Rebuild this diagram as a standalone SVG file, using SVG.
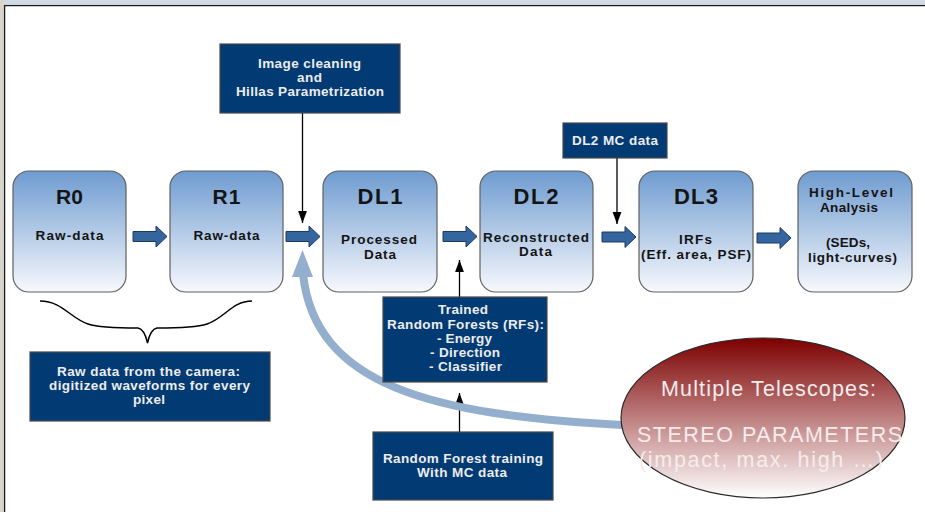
<svg xmlns="http://www.w3.org/2000/svg" width="925" height="512" viewBox="0 0 925 512">
  <defs>
    <linearGradient id="nodeFill" x1="0" y1="0" x2="0" y2="1">
      <stop offset="0" stop-color="#6e9bd0"/>
      <stop offset="1" stop-color="#f7f9fd"/>
    </linearGradient>
    <linearGradient id="redFill" x1="0" y1="0" x2="0" y2="1">
      <stop offset="0" stop-color="#7d0000"/>
      <stop offset="1" stop-color="#ffffff"/>
    </linearGradient>
    <marker id="head" markerUnits="userSpaceOnUse" markerWidth="12" markerHeight="16" refX="15" refY="5.5" viewBox="0 0 15 11" orient="auto">
      <path d="M0,0 L15,5.5 L0,11 Z" fill="#000"/>
    </marker>
    <path id="blockArrow" d="M0,-5 H23 V-10.5 L34,0 L23,10.5 V5 H0 Z"/>
  </defs>
  <style>
    .node rect { fill: url(#nodeFill); stroke: #606060; stroke-width: 1.2; }
    .title { font-family: "Liberation Sans", Arial, sans-serif; font-weight: bold; fill: #141414; text-anchor: middle; }
    .sub { font-family: "Liberation Sans", Arial, sans-serif; font-weight: bold; font-size: 13.5px; fill: #141414; text-anchor: middle; }
    .box rect { fill: #023a73; stroke: #4a4a4a; stroke-width: 1.2; }
    .box text { font-family: "Liberation Sans", Arial, sans-serif; font-weight: bold; font-size: 13.5px; fill: #ececec; text-anchor: middle; }
    .flow use { fill: #35659f; stroke: #1c3a62; stroke-width: 1; }
    .link { stroke: #000; stroke-width: 1.3; fill: none; marker-end: url(#head); }
    .ell text { font-family: "Liberation Sans", Arial, sans-serif; fill: #f6ecec; text-anchor: middle; font-size: 21.5px; }
  </style>

  <!-- page frame -->
  <rect x="0" y="0" width="925" height="512" fill="#d2dbe5"/>
  <rect x="0" y="0" width="4" height="512" fill="#d8d5cc"/>
  <rect x="4.6" y="5.6" width="925" height="510" fill="#ffffff" stroke="#1c1c1c" stroke-width="1.3"/>

  <!-- connectors -->
  <g id="connectors">
    <g class="flow">
      <use href="#blockArrow" transform="translate(133,236.5)"/>
      <use href="#blockArrow" transform="translate(286,236.5)"/>
      <use href="#blockArrow" transform="translate(443,236.5)"/>
      <use href="#blockArrow" transform="translate(602,237)"/>
      <use href="#blockArrow" transform="translate(757,238)"/>
    </g>
    <line class="link" x1="302.5" y1="113" x2="302.5" y2="223"/>
    <line class="link" x1="617" y1="158" x2="617" y2="224"/>
    <line class="link" x1="459.5" y1="297" x2="459.5" y2="260"/>
    <line class="link" x1="459.5" y1="432" x2="459.5" y2="393"/>
    <!-- brace over R0 and R1 -->
    <path d="M40,301 C62,301 70,318 88,324 C100,328 120,328 138,328 C143,329 146,336 147.5,343 C149,336 152,329 157,328 C175,328 195,328 207,324 C225,318 232,301 252,301" fill="none" stroke="#000" stroke-width="1.5"/>
    <!-- stereo feedback arc -->
    <path d="M622,425 C430,415 315,385 303,274" fill="none" stroke="#93afcd" stroke-width="8"/>
    <polygon points="302.5,250 292,277 313,277" fill="#93afcd"/>
  </g>

  <!-- data levels -->
  <g id="r0" class="node">
    <rect x="13" y="171" width="113" height="121" rx="16"/>
    <text class="title" x="69.5" y="204" font-size="21" textLength="27">R0</text>
    <text class="sub" x="69.5" y="240" textLength="68">Raw-data</text>
  </g>
  <g id="r1" class="node">
    <rect x="170" y="171" width="113" height="121" rx="16"/>
    <text class="title" x="226.5" y="204" font-size="21" textLength="28">R1</text>
    <text class="sub" x="226.5" y="240" textLength="66">Raw-data</text>
  </g>
  <g id="dl1" class="node">
    <rect x="323" y="171" width="114" height="121" rx="16"/>
    <text class="title" x="380" y="204" font-size="22" textLength="45">DL1</text>
    <text class="sub" x="379" y="244" textLength="76">Processed</text>
    <text class="sub" x="380" y="259" textLength="32">Data</text>
  </g>
  <g id="dl2" class="node">
    <rect x="480" y="171" width="113" height="121" rx="16"/>
    <text class="title" x="536" y="204" font-size="22" textLength="45">DL2</text>
    <text class="sub" x="536" y="242" textLength="106">Reconstructed</text>
    <text class="sub" x="535.5" y="256" textLength="33">Data</text>
  </g>
  <g id="dl3" class="node">
    <rect x="639" y="171" width="114" height="121" rx="16"/>
    <text class="title" x="696" y="204" font-size="22" textLength="44">DL3</text>
    <text class="sub" x="695.5" y="244" textLength="33">IRFs</text>
    <text class="sub" x="696" y="259" textLength="110">(Eff. area, PSF)</text>
  </g>
  <g id="hla" class="node">
    <rect x="798" y="171" width="114" height="121" rx="16"/>
    <text class="sub" x="851" y="197" font-size="15" textLength="84">High-Level</text>
    <text class="sub" x="849" y="212" font-size="15" textLength="58">Analysis</text>
    <text class="sub" x="848" y="247" textLength="44">(SEDs,</text>
    <text class="sub" x="852.5" y="262" textLength="89">light-curves)</text>
  </g>

  <!-- processing inputs -->
  <g id="hillas" class="box">
    <rect x="220" y="44" width="180" height="69"/>
    <text x="309.5" y="68" textLength="103">Image cleaning</text>
    <text x="309.5" y="82" textLength="25">and</text>
    <text x="310" y="96" textLength="148">Hillas Parametrization</text>
  </g>
  <g id="dl2mc" class="box">
    <rect x="563" y="123" width="104" height="35"/>
    <text x="615" y="145" textLength="86">DL2 MC data</text>
  </g>
  <g id="trained" class="box">
    <rect x="383" y="297" width="164" height="85"/>
    <text x="463" y="314" textLength="50">Trained</text>
    <text x="465.5" y="329" textLength="157">Random Forests (RFs):</text>
    <text x="464.5" y="343" textLength="55">- Energy</text>
    <text x="465" y="357" textLength="70">- Direction</text>
    <text x="465.5" y="371" textLength="73">- Classifier</text>
  </g>
  <g id="training" class="box">
    <rect x="373" y="432" width="180" height="68"/>
    <text x="463" y="463" textLength="160">Random Forest training</text>
    <text x="462" y="477" textLength="90">With MC data</text>
  </g>
  <g id="rawnote" class="box">
    <rect x="30" y="352" width="240" height="69"/>
    <text x="148.5" y="376" textLength="183">Raw data from the camera:</text>
    <text x="149.5" y="390" textLength="201">digitized waveforms for every</text>
    <text x="149" y="404" textLength="32">pixel</text>
  </g>

  <!-- stereo parameters -->
  <g id="stereo" class="ell">
    <ellipse cx="763" cy="418" rx="142" ry="80" fill="url(#redFill)" stroke="#2a2a2a" stroke-width="1.2"/>
    <text x="768.5" y="396" textLength="215">Multiple Telescopes:</text>
    <text x="769.5" y="442" textLength="265">STEREO PARAMETERS</text>
    <text x="761" y="467" textLength="244">(impact, max. high …)</text>
  </g>
</svg>
